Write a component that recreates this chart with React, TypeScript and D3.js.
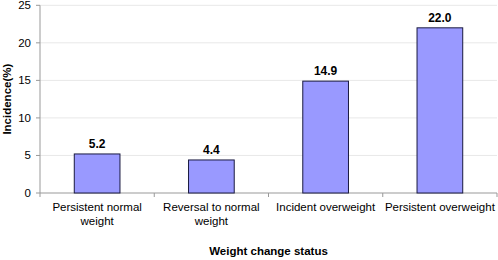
import React from "react";
import * as d3 from "d3";

const categories: string[][] = [
  ["Persistent normal", "weight"],
  ["Reversal to normal", "weight"],
  ["Incident overweight"],
  ["Persistent overweight"],
];
const values: number[] = [5.2, 4.4, 14.9, 22.0];
const yTicks: number[] = [0, 5, 10, 15, 20, 25];
const yTitle = "Incidence(%)";
const xTitle = "Weight change status";

export default function App() {
  const W = 498, H = 260;
  const left = 40, right = 497, top = 5.3, bottom = 193;
  const keys = categories.map((c) => c.join(" "));
  const x = d3.scaleBand<string>().domain(keys).range([left, right]).paddingInner(0.6).paddingOuter(0.3);
  const y = d3.scaleLinear().domain([0, 25]).range([bottom, top]);
  const font = "'Liberation Sans', Arial, sans-serif";
  const step = x.step();
  const boundaries = d3.range(keys.length + 1).map((i) => left + i * step);
  const fs = 11.5;
  return (
    <svg width={W} height={H} style={{ position: "absolute", left: 0, top: 0 }} fontFamily={font}>
      <rect x={0} y={0} width={W} height={H} fill="#fff" />
      {yTicks.map((t) => (
        <g key={t}>
          {t > 0 && <line x1={left} x2={right} y1={y(t)} y2={y(t)} stroke="#e8e8e8" strokeWidth={1} />}
          <line x1={left - 4} x2={left} y1={y(t)} y2={y(t)} stroke="#999" strokeWidth={1} />
          <text x={left - 9} y={y(t)} dy="0.35em" textAnchor="end" fontSize={fs} fill="#000">{t}</text>
        </g>
      ))}
      <line x1={left} x2={left} y1={top} y2={bottom} stroke="#999" strokeWidth={1} />
      <line x1={left} x2={right} y1={bottom} y2={bottom} stroke="#999" strokeWidth={1} />
      {boundaries.map((b, i) => (
        <line key={i} x1={b} x2={b} y1={bottom} y2={bottom + 4} stroke="#999" strokeWidth={1} />
      ))}
      {values.map((v, i) => {
        const k = keys[i];
        const bx = x(k)!;
        const cx = bx + x.bandwidth() / 2;
        return (
          <g key={k}>
            <rect x={bx} y={y(v)} width={x.bandwidth()} height={bottom - y(v)} fill="#9999ff" stroke="#1a1a40" strokeWidth={1} />
            <text x={cx} y={y(v) - 6} textAnchor="middle" fontSize={12} fontWeight="bold" fill="#000">{v.toFixed(1)}</text>
            {categories[i].map((line, j) => (
              <text key={j} x={cx} y={211 + j * 14} textAnchor="middle" fontSize={fs} fill="#000">{line}</text>
            ))}
          </g>
        );
      })}
      <text x={(left + right) / 2} y={255} textAnchor="middle" fontSize={fs} fontWeight="bold" fill="#000">{xTitle}</text>
      <text transform={`translate(11,${(top + bottom) / 2}) rotate(-90)`} textAnchor="middle" fontSize={fs} fontWeight="bold" fill="#000">{yTitle}</text>
    </svg>
  );
}
